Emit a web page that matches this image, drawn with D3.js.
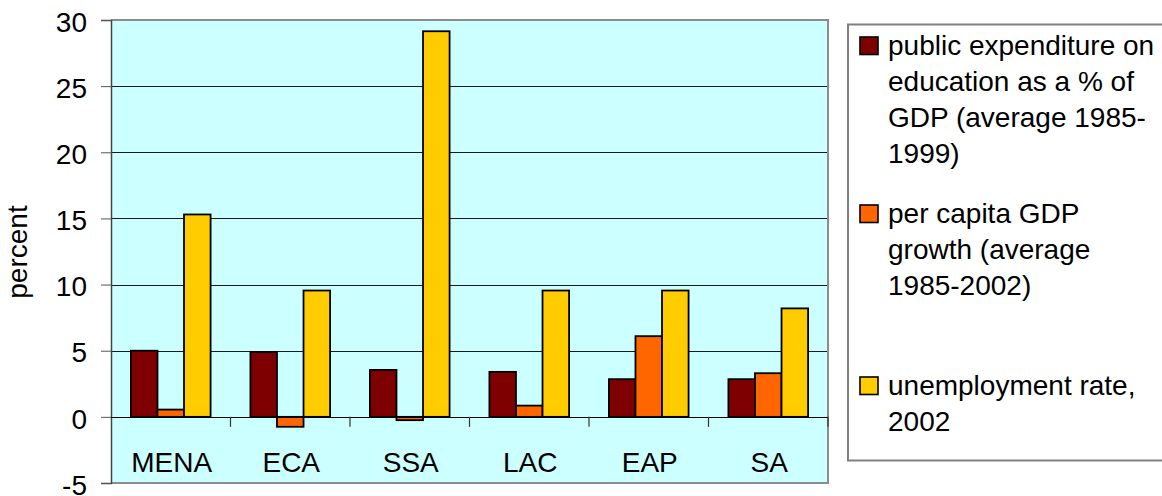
<!DOCTYPE html>
<html>
<head>
<meta charset="utf-8">
<script src="https://cdn.jsdelivr.net/npm/d3@7"></script>
<style>
  html, body { margin: 0; padding: 0; background: #fff; }
  svg { display: block; font-family: "Liberation Sans", Arial, sans-serif; }
</style>
</head>
<body>
<svg id="chart" width="1162" height="496"></svg>
<script>
// Regions and the three indicators shown per region
const regions = ["MENA", "ECA", "SSA", "LAC", "EAP", "SA"];
const eduSpending = [5.0, 4.9, 3.55, 3.4, 2.85, 2.85];
const gdpGrowth = [0.55, -0.75, -0.25, 0.85, 6.1, 3.3];
const unemployment = [15.3, 9.55, 29.15, 9.55, 9.55, 8.2];
const yTicks = [-5, 0, 5, 10, 15, 20, 25, 30];
const yTickLabels = ["-5", "0", "5", "10", "15", "20", "25", "30"];

const seriesKeys = ["edu", "gdp", "unemp"];
const seriesColors = ["#7f0000", "#ff6600", "#ffcc00"];
const legendLines = [
  ["public expenditure on", "education as a % of", "GDP (average 1985-", "1999)"],
  ["per capita GDP", "growth (average", "1985-2002)"],
  ["unemployment rate,", "2002"]
];

const seriesValues = [eduSpending, gdpGrowth, unemployment];
const rows = regions.map((r, i) => ({
  region: r,
  values: seriesKeys.map((k, s) => ({ key: k, color: seriesColors[s], value: seriesValues[s][i] }))
}));

const svg = d3.select("#chart");
const plot = { left: 111, right: 828, top: 20, bottom: 483 };

const x0 = d3.scaleBand().domain(regions).range([plot.left, plot.right]).padding(0);
const x1 = d3.scaleBand().domain(seriesKeys).range([0, x0.bandwidth()])
  .paddingInner(0).paddingOuter(0.75);
const y = d3.scaleLinear().domain([-5, 30]).range([plot.bottom, plot.top]);

// plot background
svg.append("rect")
  .attr("x", plot.left).attr("y", plot.top)
  .attr("width", plot.right - plot.left).attr("height", plot.bottom - plot.top)
  .attr("fill", "#ccffff");

// horizontal gridlines
svg.append("g")
  .selectAll("line")
  .data(yTicks.filter(t => t > -5 && t < 30))
  .join("line")
  .attr("x1", plot.left).attr("x2", plot.right)
  .attr("y1", d => Math.round(y(d)) + 0.5).attr("y2", d => Math.round(y(d)) + 0.5)
  .attr("stroke", "#1a1a1a").attr("stroke-width", 1);

// plot border (top, right, bottom)
svg.append("path")
  .attr("d", `M${plot.left},${plot.top}H${plot.right}V${plot.bottom}H${plot.left}`)
  .attr("fill", "none").attr("stroke", "#8c8c8c").attr("stroke-width", 2);

// bars
const groups = svg.append("g")
  .selectAll("g")
  .data(rows)
  .join("g")
  .attr("transform", d => `translate(${x0(d.region)},0)`);

groups.selectAll("rect")
  .data(d => d.values)
  .join("rect")
  .attr("x", d => x1(d.key))
  .attr("width", x1.bandwidth())
  .attr("y", d => y(Math.max(0, d.value)))
  .attr("height", d => Math.abs(y(d.value) - y(0)))
  .attr("fill", d => d.color)
  .attr("stroke", "#000")
  .attr("stroke-width", 1.8);

// value axis
const yAxis = svg.append("g")
  .attr("transform", `translate(${plot.left},0)`)
  .call(d3.axisLeft(y).tickValues(yTicks).tickSize(10).tickPadding(14)
    .tickFormat((d, i) => yTickLabels[i]));
yAxis.select(".domain").attr("stroke", "#444").attr("stroke-width", 1.5);
yAxis.selectAll(".tick line").attr("stroke", "#555");
yAxis.selectAll(".tick text")
  .attr("font-size", 28).attr("fill", "#000")
  .attr("font-family", "'Liberation Sans', Arial, sans-serif")
  .attr("dy", "0.4em");

// category axis along zero, with boundary ticks
const catAxis = svg.append("g");
catAxis.append("line")
  .attr("x1", plot.left).attr("x2", plot.right)
  .attr("y1", Math.round(y(0)) + 0.5).attr("y2", Math.round(y(0)) + 0.5)
  .attr("stroke", "#000").attr("stroke-width", 1.2);
catAxis.selectAll("line.tick")
  .data(regions)
  .join("line")
  .attr("class", "tick")
  .attr("x1", d => x0(d) + x0.bandwidth()).attr("x2", d => x0(d) + x0.bandwidth())
  .attr("y1", y(0)).attr("y2", y(0) + 10)
  .attr("stroke", "#333").attr("stroke-width", 1.2);
catAxis.selectAll("text")
  .data(regions)
  .join("text")
  .attr("x", d => x0(d) + x0.bandwidth() / 2 + 1)
  .attr("y", 472)
  .attr("text-anchor", "middle")
  .attr("font-size", 28)
  .text(d => d);

// axis title
svg.append("text")
  .attr("transform", "translate(27,252) rotate(-90)")
  .attr("text-anchor", "middle")
  .attr("font-size", 28)
  .text("percent");

// legend
const legend = svg.append("g");
legend.append("rect")
  .attr("x", 848).attr("y", 24.5)
  .attr("width", 340).attr("height", 436)
  .attr("fill", "#fff").attr("stroke", "#808080").attr("stroke-width", 2);

const legendBaselines = [54.5, 222.5, 394.5];
const lineStep = 36;
const items = legend.selectAll("g.item")
  .data(legendLines)
  .join("g")
  .attr("class", "item");
items.append("rect")
  .attr("x", 860).attr("y", (d, i) => legendBaselines[i] - 17.5)
  .attr("width", 18).attr("height", 17.5)
  .attr("fill", (d, i) => seriesColors[i])
  .attr("stroke", "#000").attr("stroke-width", 1.6);
items.append("text")
  .attr("font-size", 28)
  .selectAll("tspan")
  .data((d, i) => d.map((t, j) => ({ t, y: legendBaselines[i] + j * lineStep })))
  .join("tspan")
  .attr("x", 888)
  .attr("y", d => d.y)
  .text(d => d.t);
</script>
</body>
</html>
